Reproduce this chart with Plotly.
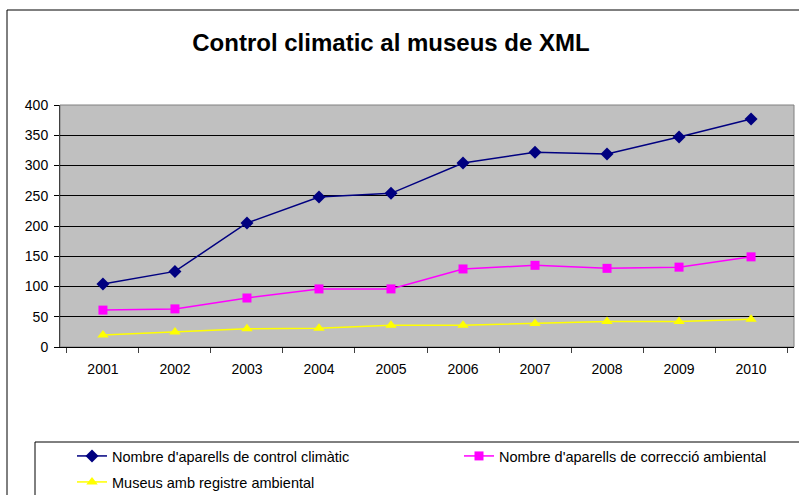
import plotly.graph_objects as go

years = ["2001", "2002", "2003", "2004", "2005", "2006", "2007", "2008", "2009", "2010"]
control_climatic = [104, 125, 205, 248, 254, 304, 322, 319, 347, 377]
correccio_ambiental = [61, 63, 81, 96, 96, 129, 135, 130, 132, 149]
registre_ambiental = [20, 25, 30, 31, 36, 36, 39, 42, 42, 46]

names = ["Nombre d'aparells de control climàtic",
         "Nombre d'aparells de correcció ambiental",
         "Museus amb registre ambiental"]

W, H = 799, 495
# plot area in pixels
L, R, T, B = 60, 794, 105, 347


def px_x(p):
    return (p - L) / (R - L)


def px_y(p):
    return (B - p) / (B - T)


fig = go.Figure()
fig.add_trace(go.Scatter(x=years, y=control_climatic, mode="lines+markers", name=names[0],
                         line=dict(color="#000080", width=1.5),
                         marker=dict(symbol="diamond", size=10, color="#000080"),
                         legend="legend"))
fig.add_trace(go.Scatter(x=years, y=correccio_ambiental, mode="lines+markers", name=names[1],
                         line=dict(color="#FF00FF", width=1.5),
                         marker=dict(symbol="square", size=9, color="#FF00FF"),
                         legend="legend2"))
fig.add_trace(go.Scatter(x=years, y=registre_ambiental, mode="lines+markers", name=names[2],
                         line=dict(color="#FFFF00", width=1.5),
                         marker=dict(symbol="triangle-up", size=10, color="#FFFF00"),
                         legend="legend3"))

# outer chart frame, plot frame and legend box
fig.add_shape(type="rect", xref="paper", yref="paper",
              x0=px_x(7), x1=px_x(805), y0=px_y(505), y1=px_y(10),
              line=dict(color="black", width=1), layer="below")
fig.add_shape(type="rect", xref="paper", yref="paper",
              x0=0, x1=1, y0=0, y1=1,
              line=dict(color="#808080", width=1), layer="below")
fig.add_shape(type="rect", xref="paper", yref="paper",
              x0=px_x(35), x1=px_x(805), y0=px_y(505), y1=px_y(442),
              line=dict(color="black", width=1), layer="below")

legend_common = dict(orientation="h", font=dict(family="Arial", size=14.5, color="black"),
                     bgcolor="rgba(0,0,0,0)", borderwidth=0,
                     xanchor="left", yanchor="middle")

fig.update_layout(
    width=W, height=H,
    margin=dict(l=L, r=W - R, t=T, b=H - B, autoexpand=False),
    paper_bgcolor="white",
    plot_bgcolor="#C0C0C0",
    font=dict(family="Arial", size=14, color="black"),
    title=dict(text="<b>Control climatic al museus de XML</b>",
               font=dict(family="Arial", size=24, color="black"),
               x=px_x(391), xref="paper", xanchor="center",
               y=1 - 43 / H, yref="container", yanchor="middle"),
    xaxis=dict(type="category", tickson="boundaries", ticks="outside", ticklen=5,
               tickcolor="#404040", showline=True, linecolor="black", linewidth=1,
               showgrid=False, mirror=False, tickfont=dict(size=14), automargin=False,
               ticklabelstandoff=9),
    yaxis=dict(range=[0, 400], dtick=50, ticks="outside", ticklen=5, tickcolor="black",
               showline=True, linecolor="#404040", linewidth=1,
               gridcolor="black", gridwidth=1, zeroline=False, tickfont=dict(size=14),
               automargin=False, ticklabelstandoff=3),
    legend=dict(x=px_x(72), y=px_y(456), **legend_common),
    legend2=dict(x=px_x(459), y=px_y(456), **legend_common),
    legend3=dict(x=px_x(72), y=px_y(482), **legend_common),
    showlegend=True,
)

fig.write_html("out.html", config={"displayModeBar": False},
               post_script="document.body.style.margin='0';document.body.style.overflow='hidden';")
